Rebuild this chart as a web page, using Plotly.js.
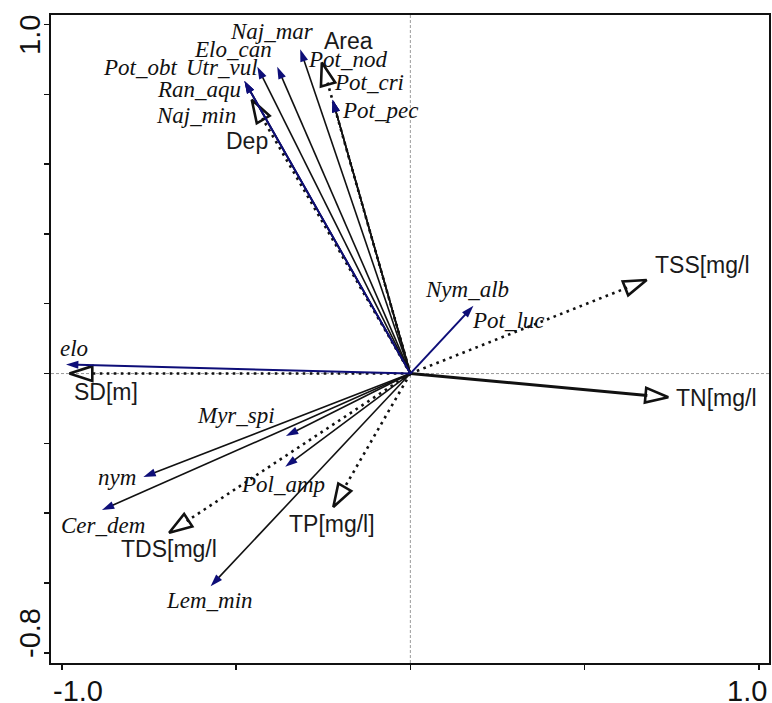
<!DOCTYPE html>
<html><head><meta charset="utf-8">
<script src="https://cdn.plot.ly/plotly-3.0.1.min.js"></script>
<style>html,body{margin:0;padding:0;background:#fff}#chart{width:772px;height:703px}</style>
</head><body><div id="chart"></div>
<script>
// ---- Data: species scores ----
const speciesNames = ['Pot_obt','Naj_min','Pot_nod','Pot_cri','Naj_mar','Elo_can','Utr_vul','Pot_pec',
                      'Myr_spi','Pol_amp','nym','Cer_dem','Lem_min','Ran_aqu','elo','Nym_alb','Pot_luc'];
const speciesX = [-0.476,-0.476,-0.223,-0.223,-0.316,-0.382,-0.439,-0.223,
                  -0.357,-0.359,-0.766,-0.885,-0.573,-0.476,-0.988,0.181,0.281];
const speciesY = [0.838,0.838,0.784,0.784,0.929,0.879,0.879,0.784,
                  -0.179,-0.267,-0.296,-0.391,-0.609,0.838,0.026,0.194,0.153];
// ---- Data: environmental variable scores ----
const envNames = ['Area','Dep','TSS[mg/l','TN[mg/l','SD[m]','TDS[mg/l','TP[mg/l]'];
const envX = [-0.254,-0.455,0.678,0.740,-0.978,-0.692,-0.221];
const envY = [0.891,0.784,0.268,-0.068,0.000,-0.456,-0.382];
// ---- Axis ticks ----
const xTickVals = [-1.0,-0.5,0,0.5,1.0];
const yTickVals = [-0.8,-0.6,-0.4,-0.2,0,0.2,0.4,0.6,0.8,1.0];
const xTickText = ['-1.0','1.0'];
const yTickText = ['1.0','-0.8'];

// ---- Styles ----
const NAVY = '#0e0e78';
const navyLines = new Set(['Ran_aqu','elo','Nym_alb']);
const noArrow = new Set(['Pot_luc']);
const envSolid = new Set(['TN[mg/l']);
// label offsets in pixels (dx right, dy down) from the arrow tip
const speciesLabelOffset = {
  'Naj_mar':[-28,-18],'Elo_can':[-44,-17],'Pot_obt':[-104,-13],'Utr_vul':[-35,1],
  'Ran_aqu':[-45,9],'Naj_min':[-48,35],'Pot_nod':[15,-40],'Pot_cri':[36,-17],'Pot_pec':[47,11],
  'Nym_alb':[-6,-16],'Pot_luc':[0,0],'elo':[8,-16],'Myr_spi':[-50,-21],'Pol_amp':[-2,18],
  'nym':[-26,1],'Cer_dem':[1,15],'Lem_min':[-1,14]
};
const envLabelOffset = {
  'Area':[27,-21],'Dep':[-5,41],'TSS[mg/l':[56,-15],'TN[mg/l':[48,1],
  'SD[m]':[37,18],'TDS[mg/l':[0,16],'TP[mg/l]':[-1,17]
};

const traces = [];
function arrow(x, y, o) {
  traces.push({
    type:'scatter', mode:'lines+markers', x:[0,x], y:[0,y],
    hoverinfo:'skip', showlegend:false, cliponaxis:false,
    line:{color:o.lineColor, width:o.lineWidth, dash:o.dash||'solid', backoff:o.backoff},
    marker:{symbol:o.symbol, size:[1,o.size], opacity:[0,1], angleref:'previous',
            color:o.headColor, line:{color:o.headColor, width:o.headLine}}
  });
}
// environmental arrows first (underneath)
envNames.forEach((n,i)=>{
  const solid = envSolid.has(n);
  arrow(envX[i], envY[i], {
    lineColor:'#111', lineWidth: solid?3:2.6, dash: solid?'solid':'2.6px,4.4px', backoff:21,
    symbol:'arrow-open', size:24, headColor:'#111', headLine:2.6
  });
});
// black species, then navy species on top
const order = speciesNames.map((n,i)=>i).filter(i=>!noArrow.has(speciesNames[i]));
order.filter(i=>!navyLines.has(speciesNames[i])).concat(order.filter(i=>navyLines.has(speciesNames[i]))).forEach(i=>{
  const navy = navyLines.has(speciesNames[i]);
  arrow(speciesX[i], speciesY[i], {
    lineColor: navy?NAVY:'#111', lineWidth: navy?2:1.6, backoff:'auto',
    symbol:'arrow', size:13, headColor:NAVY, headLine:0
  });
});

const annotations = [];
speciesNames.forEach((n,i)=>{
  const o = speciesLabelOffset[n];
  annotations.push({x:speciesX[i], y:speciesY[i], xref:'x', yref:'y', text:'<i>'+n+'</i>',
    showarrow:false, xanchor:'center', yanchor:'middle', xshift:o[0], yshift:-o[1],
    font:{family:'Liberation Serif, Times New Roman, serif', size:23, color:'#111'}});
});
envNames.forEach((n,i)=>{
  const o = envLabelOffset[n];
  annotations.push({x:envX[i], y:envY[i], xref:'x', yref:'y', text:n,
    showarrow:false, xanchor:'center', yanchor:'middle', xshift:o[0], yshift:-o[1],
    font:{family:'Liberation Sans, Arial, sans-serif', size:23, color:'#1a1a1a'}});
});
const tickFont = {family:'Liberation Sans, Arial, sans-serif', size:29, color:'#111'};
annotations.push({xref:'paper', yref:'paper', x:0, y:0, xanchor:'left', yanchor:'middle', yshift:-28, xshift:0,
  text:xTickText[0], showarrow:false, font:tickFont});
annotations.push({xref:'paper', yref:'paper', x:1, y:0, xanchor:'right', yanchor:'middle', yshift:-28, xshift:0,
  text:xTickText[1], showarrow:false, font:tickFont});
annotations.push({xref:'paper', yref:'paper', x:0, y:1, xanchor:'center', yanchor:'top', xshift:-21, yshift:2,
  text:yTickText[0], textangle:-90, showarrow:false, font:tickFont});
annotations.push({xref:'paper', yref:'paper', x:0, y:0, xanchor:'center', yanchor:'bottom', xshift:-21, yshift:3,
  text:yTickText[1], textangle:-90, showarrow:false, font:tickFont});

const axisCommon = {showgrid:false, zeroline:false, showline:true, mirror:true, linecolor:'#111', linewidth:2,
  ticks:'outside', ticklen:5, tickwidth:1.5, tickcolor:'#111', showticklabels:false, fixedrange:true};

const layout = {
  width:772, height:703, margin:{l:51, r:3, t:15, b:40},
  paper_bgcolor:'#fff', plot_bgcolor:'#fff', showlegend:false,
  xaxis:Object.assign({}, axisCommon, {range:[-1.031,1.029], tickvals:xTickVals}),
  yaxis:Object.assign({}, axisCommon, {range:[-0.829,1.027], tickvals:yTickVals}),
  shapes:[
    {type:'line', xref:'x', yref:'paper', x0:0, x1:0, y0:0, y1:1, line:{color:'#9a9a9a', width:1, dash:'3px,2px'}, layer:'below'},
    {type:'line', xref:'paper', yref:'y', x0:0, x1:1, y0:0, y1:0, line:{color:'#9a9a9a', width:1, dash:'3px,2px'}, layer:'below'}
  ],
  annotations: annotations
};
Plotly.newPlot('chart', traces, layout, {staticPlot:true, displayModeBar:false});
</script></body></html>
